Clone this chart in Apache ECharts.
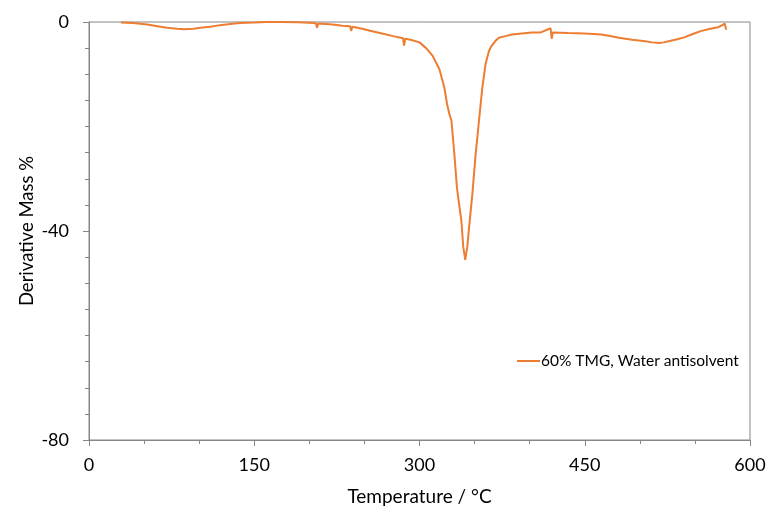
<!DOCTYPE html>
<html>
<head>
<meta charset="utf-8">
<script src="https://cdn.jsdelivr.net/npm/echarts@6/dist/echarts.min.js"></script>
<style>html,body{margin:0;padding:0;background:#fff}#c{width:775px;height:511px}</style>
</head>
<body>
<div id="c"></div>
<script>
const seriesName = '60% TMG, Water antisolvent';
const temperature = [29, 40, 53, 62, 71, 80, 86, 95, 101, 110, 119, 128, 137, 150, 161, 175, 190, 204, 206, 207, 208, 215, 221, 230, 237, 238, 239, 248, 258, 268, 276, 285, 286, 287, 292, 300, 306, 312, 318, 322.6, 325, 327, 329, 331.6, 334, 336, 338, 339.7, 341.5, 343.4, 345, 348, 351, 354, 357, 360, 363, 365, 369, 372, 378, 384, 393, 402, 410, 419, 420, 421, 428, 435, 450, 465, 473, 481, 493, 505, 511, 517, 522, 526, 534, 541, 548, 556, 564, 571, 575, 577, 578, 578.5];
const derivMass = [-0.1, -0.2, -0.5, -0.8, -1.1, -1.3, -1.4, -1.3, -1.1, -0.9, -0.6, -0.4, -0.2, -0.1, 0, 0, -0.05, -0.2, -0.3, -1.1, -0.3, -0.4, -0.5, -0.7, -0.8, -1.7, -0.9, -1.3, -1.8, -2.3, -2.7, -3.1, -4.5, -3.2, -3.4, -3.9, -5.0, -6.5, -9.0, -12.6, -15.7, -17.5, -18.9, -25.2, -31.7, -35, -38, -43, -45.5, -43, -39.3, -32.9, -25.2, -18.9, -12.6, -8.0, -5.6, -4.7, -3.6, -3.0, -2.7, -2.4, -2.2, -2.0, -2.0, -1.2, -3.2, -2.0, -2.05, -2.1, -2.2, -2.4, -2.7, -3.0, -3.4, -3.7, -3.9, -4.0, -3.9, -3.7, -3.3, -2.9, -2.3, -1.7, -1.3, -1.0, -0.6, -0.3, -0.1, -1.5];
const xTicks = [0, 150, 300, 450, 600];
const yTicks = [-80, -40, 0];

const FONT = 'Lato, "Open Sans", sans-serif';
const AX = '#868686';
const chart = echarts.init(document.getElementById('c'), null, {renderer: 'canvas'});
chart.setOption({
  animation: false,
  backgroundColor: '#fff',
  textStyle: {fontFamily: FONT},
  grid: {left: 89, right: 25, top: 22, bottom: 71, show: true, borderColor: AX, borderWidth: 1, containLabel: false},
  legend: {
    left: 517, top: 353, padding: 0, icon: 'rect', itemWidth: 23, itemHeight: 2, itemGap: 5,
    textStyle: {fontFamily: FONT, fontSize: 15.5, color: '#000', padding: [0, 0, 0, -4]},
    data: [seriesName]
  },
  xAxis: {
    type: 'value', min: xTicks[0], max: xTicks[xTicks.length - 1], interval: 150,
    name: 'Temperature / °C', nameLocation: 'middle', nameGap: 47, nameMoveOverlap: false,
    nameTextStyle: {fontFamily: FONT, fontSize: 19, color: '#000'},
    axisLine: {show: true, onZero: false, lineStyle: {color: AX, width: 1}},
    axisTick: {show: true, length: 6, lineStyle: {color: AX}},
    minorTick: {show: true, splitNumber: 3, length: 4, lineStyle: {color: AX}},
    splitLine: {show: false},
    axisLabel: {fontFamily: FONT, fontSize: 18, color: '#000', margin: 16}
  },
  yAxis: {
    type: 'value', min: yTicks[0], max: yTicks[yTicks.length - 1], interval: 40,
    name: 'Derivative Mass %', nameLocation: 'middle', nameGap: 52, nameRotate: 90, nameMoveOverlap: false,
    nameTextStyle: {fontFamily: FONT, fontSize: 18.5, color: '#000'},
    axisLine: {show: true, onZero: false, lineStyle: {color: AX, width: 1}},
    axisTick: {show: true, length: 6, lineStyle: {color: AX}},
    minorTick: {show: true, splitNumber: 8, length: 4, lineStyle: {color: AX}},
    splitLine: {show: false},
    axisLabel: {fontFamily: FONT, fontSize: 18, color: '#000', margin: 20}
  },
  series: [{
    name: seriesName, type: 'line', showSymbol: false, symbol: 'none',
    data: temperature.map((t, i) => [t, derivMass[i]]),
    lineStyle: {color: '#ED7D31', width: 2},
    itemStyle: {color: '#ED7D31'}
  }]
});
</script>
</body>
</html>
